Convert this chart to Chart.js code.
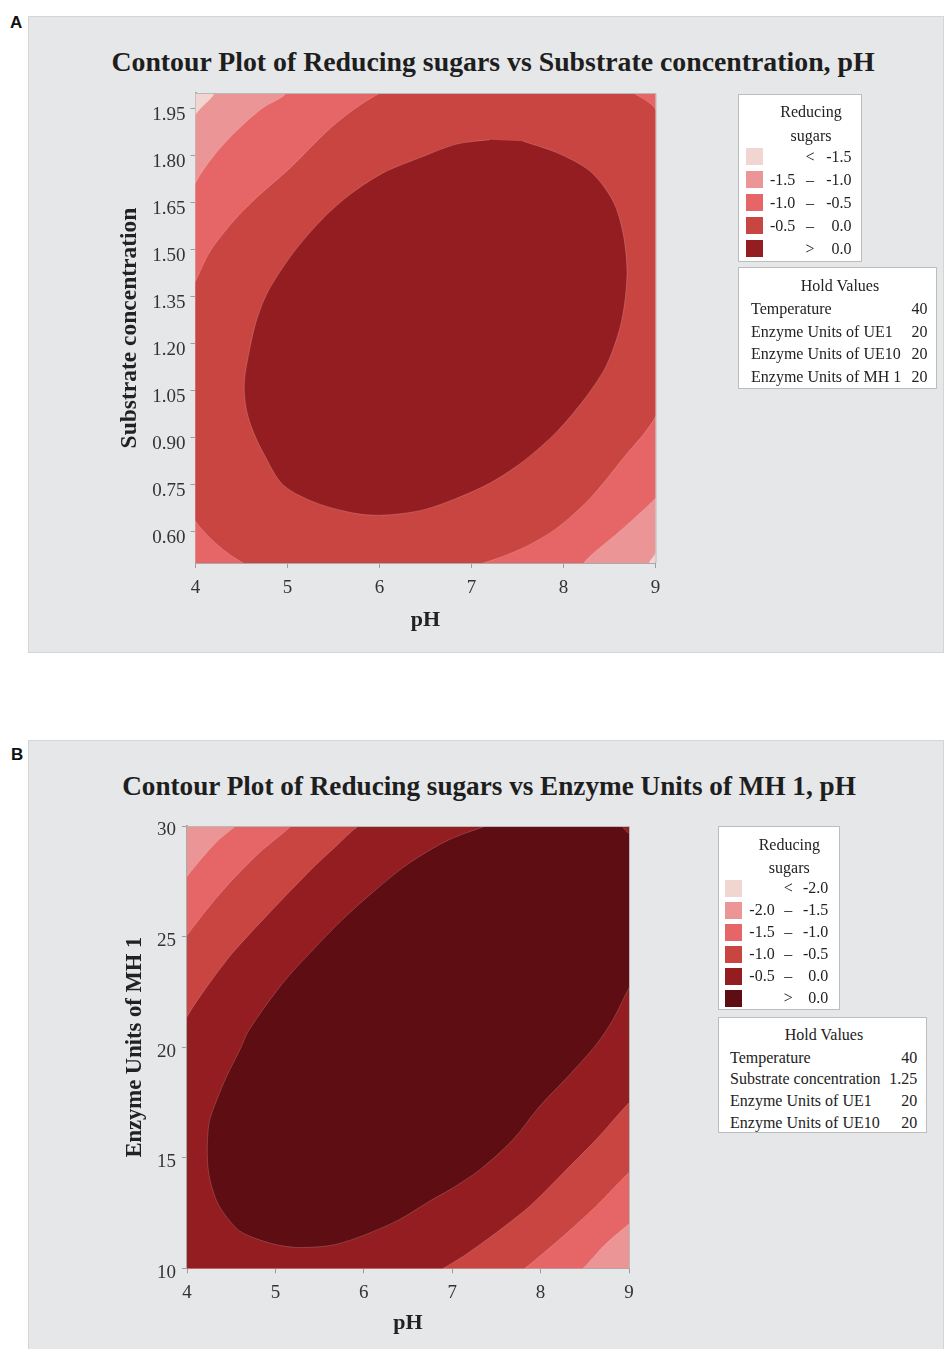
<!DOCTYPE html>
<html>
<head>
<meta charset="utf-8">
<script src="https://cdn.jsdelivr.net/npm/chart.js@4/dist/chart.umd.min.js"></script>
<style>
  html,body{margin:0;padding:0;background:#fff}
  body{position:relative;width:944px;height:1349px;overflow:hidden;font-family:"Liberation Serif","Times New Roman",serif;color:#222}
  .panel{position:absolute;background:#e6e7e9;border:1px solid #d4d5d7;box-sizing:border-box}
  .lbl{position:absolute;font:bold 17px "Liberation Sans",Arial,sans-serif;line-height:20px;color:#111}
  .ttl{position:absolute;font-weight:bold;line-height:32px;text-align:center;white-space:nowrap;color:#1e1e1e}
  canvas{position:absolute}
  .box{position:absolute;background:#fff;border:1px solid #bdbdbd;box-sizing:border-box}
  .t{position:absolute;font-size:16px;line-height:20px;white-space:nowrap;color:#222}
  .sw{position:absolute;width:17px;height:17px}
</style>
</head>
<body>
<div class="panel" style="left:28px;top:16px;width:916px;height:637px"></div>
<div class="panel" style="left:28px;top:740px;width:916px;height:640px"></div>
<div class="lbl" style="left:10px;top:13px">A</div>
<div class="lbl" style="left:11px;top:745px">B</div>
<div class="ttl" style="left:-7px;width:1000px;top:46px;font-size:27.8px">Contour Plot of Reducing sugars vs Substrate concentration, pH</div>
<div class="ttl" style="left:-11px;width:1000px;top:770px;font-size:27.2px">Contour Plot of Reducing sugars vs Enzyme Units of MH 1, pH</div>
<canvas id="chartA" width="916" height="636" style="left:28px;top:16px"></canvas>
<canvas id="chartB" width="916" height="609" style="left:28px;top:740px"></canvas>
<script>
// ---- data ----
// contour classes (lowest -> highest)
const colorsA = ['#f0d5d1', '#eb9596', '#e66667', '#c94542', '#931d20'];
const colorsB = ['#f0d5d1', '#eb9596', '#e66667', '#c94542', '#931d20', '#5e0d12'];

const lowA = ['', '-1.5', '-1.0', '-0.5', ''];
const sepA = ['<', '\u2013', '\u2013', '\u2013', '>'];
const highA = ['-1.5', '-1.0', '-0.5', '0.0', '0.0'];

const lowB = ['', '-2.0', '-1.5', '-1.0', '-0.5', ''];
const sepB = ['<', '\u2013', '\u2013', '\u2013', '\u2013', '>'];
const highB = ['-2.0', '-1.5', '-1.0', '-0.5', '0.0', '0.0'];

const holdNamesA = ['Temperature', 'Enzyme Units of UE1', 'Enzyme Units of UE10', 'Enzyme Units of MH 1'];
const holdValsA = ['40', '20', '20', '20'];
const holdNamesB = ['Temperature', 'Substrate concentration', 'Enzyme Units of UE1', 'Enzyme Units of UE10'];
const holdValsB = ['40', '1.25', '20', '20'];

const phTicks = [4, 5, 6, 7, 8, 9];
const substrateTicks = [0.60, 0.75, 0.90, 1.05, 1.20, 1.35, 1.50, 1.65, 1.80, 1.95];
const mhTicks = [10, 15, 20, 25, 30];

// panel A contour regions [pH, substrate], outermost first (pts outside the axes get clipped)
const regionA_m15 = [[3.9,1.85],[4.0,1.931],[4.21,2.0],[4.3,2.08],[9.1,2.08],[9.1,0.6],[9.0,0.53],[8.93,0.5],[8.85,0.42],[3.9,0.42]];
const regionA_m10 = [[3.9,1.62],[4.0,1.713],[4.2,1.80],[4.45,1.88],[4.72,1.95],[4.99,2.0],[5.1,2.08],[9.1,2.08],[9.1,0.75],[9.0,0.707],[8.61,0.601],[8.22,0.5],[8.1,0.42],[3.9,0.42]];
const regionA_m05 = [[4.0,1.399],[4.16,1.495],[4.41,1.59],[4.66,1.665],[5.03,1.761],[5.43,1.878],[5.72,1.947],[6.01,2.0],[6.5,2.06],[7.5,2.09],[8.4,2.06],[8.76,2.0],[9.0,1.947],[9.08,1.8],[9.08,1.1],[9.0,0.968],[8.65,0.835],[8.29,0.707],[7.93,0.612],[7.56,0.548],[7.13,0.5],[6.5,0.45],[5.2,0.45],[4.52,0.5],[4.0,0.633],[3.92,0.75],[3.92,1.3]];
const regionA_0 = [[7.20,1.851],[6.84,1.837],[6.48,1.798],[6.04,1.745],[5.68,1.676],[5.39,1.601],[5.06,1.489],[4.79,1.367],[4.66,1.271],[4.57,1.154],[4.53,1.074],[4.55,0.995],[4.62,0.925],[4.74,0.85],[4.95,0.75],[5.32,0.691],[5.79,0.656],[6.11,0.654],[6.48,0.67],[6.84,0.707],[7.20,0.755],[7.56,0.824],[7.93,0.92],[8.25,1.032],[8.47,1.133],[8.63,1.271],[8.69,1.42],[8.65,1.548],[8.54,1.654],[8.29,1.75],[7.93,1.809],[7.56,1.846]];

// panel B contour regions [pH, MH 1]
const regionB_m15 = [[3.9,27.0],[4.0,27.71],[4.32,29.22],[4.55,30],[4.7,30.5],[9.2,30.5],[9.2,12.6],[9.0,12.0],[8.71,11.0],[8.48,10],[8.3,9.5],[3.9,9.5]];
const regionB_m10 = [[3.9,24.5],[4.0,25.06],[4.25,26.35],[4.51,27.55],[4.81,28.76],[5.18,30],[5.3,30.5],[9.2,30.5],[9.2,15],[9.0,14.33],[8.63,12.82],[8.26,11.47],[7.82,10],[7.6,9.5],[3.9,9.5]];
const regionB_m05 = [[3.9,20.5],[4.0,21.37],[4.17,22.42],[4.51,24.23],[4.89,25.89],[5.40,28.01],[5.68,29.06],[5.94,30],[6.2,30.5],[9.2,30.5],[9.2,18.2],[9.0,17.49],[8.63,15.83],[8.26,14.33],[7.88,12.82],[7.50,11.62],[7.13,10.56],[6.90,10],[6.7,9.5],[3.9,9.5]];
const regionB_0 = [[7.38,30],[6.96,29.37],[6.51,28.31],[6.13,27.10],[5.75,25.74],[5.42,24.38],[5.08,22.88],[4.70,20.76],[4.60,19.89],[4.45,18.69],[4.34,17.64],[4.25,16.58],[4.23,15.08],[4.26,14.0],[4.36,12.85],[4.57,11.77],[4.75,11.39],[5.02,11.06],[5.28,10.94],[5.66,11.06],[6.03,11.54],[6.41,12.22],[6.75,13.05],[6.98,13.57],[7.32,14.48],[7.69,15.83],[7.99,17.33],[8.33,18.76],[8.63,20.12],[8.82,21.25],[9.0,22.68],[9.2,24],[9.2,29.5],[9.0,29.67],[8.92,30],[8.8,30.5],[7.5,30.5]];

// ---- helpers ----
const SERIF = '"Liberation Serif", "Times New Roman", serif';

function addText(x, y, s, align){
  const d = document.createElement('div');
  d.className = 't';
  d.textContent = s;
  d.style.top = (y - 10) + 'px';
  if (align === 'right') d.style.right = (944 - x) + 'px';
  else if (align === 'center') { d.style.left = (x - 100) + 'px'; d.style.width = '200px'; d.style.textAlign = 'center'; }
  else d.style.left = x + 'px';
  document.body.appendChild(d);
}
function addBox(l, t, w, h){
  const b = document.createElement('div');
  b.className = 'box';
  Object.assign(b.style, {left: l+'px', top: t+'px', width: w+'px', height: h+'px'});
  document.body.appendChild(b);
}

function legend(L, colors, low, sep, high, names, vals){
  addBox(L.left, L.top, L.w, L.h);
  addText(L.cx, L.titleY, 'Reducing', 'center');
  addText(L.cx, L.titleY + L.titleGap, 'sugars', 'center');
  colors.forEach((c, i)=>{
    const y = L.row0 + i*L.rowStep;
    const s = document.createElement('div');
    s.className = 'sw';
    Object.assign(s.style, {left: L.swX+'px', top: (y-8.5)+'px', background: c});
    document.body.appendChild(s);
    if (low[i]) addText(L.lowX, y, low[i], 'left');
    addText(L.sepX, y, sep[i], 'center');
    addText(L.highX, y, high[i], 'right');
  });
  const H = L.hold;
  addBox(H.left, H.top, H.w, H.h);
  addText(H.cx, H.titleY, 'Hold Values', 'center');
  names.forEach((n, i)=>{
    const y = H.row0 + i*H.rowStep;
    addText(H.labX, y, n, 'left');
    addText(H.valX, y, vals[i], 'right');
  });
}

const plotFrame = {
  id: 'plotFrame',
  beforeDatasetsDraw(chart, args, opts){
    const {ctx, chartArea: a} = chart;
    ctx.save();
    ctx.fillStyle = opts.base;
    ctx.fillRect(a.left, a.top, a.width, a.height);
    ctx.restore();
  },
  afterDatasetsDraw(chart){
    const {ctx, chartArea: a} = chart;
    ctx.save();
    ctx.strokeStyle = '#b9b9bb';
    ctx.lineWidth = 1;
    ctx.beginPath();
    ctx.moveTo(a.left, a.top + 0.5); ctx.lineTo(a.right + 0.5, a.top + 0.5); ctx.lineTo(a.right + 0.5, a.bottom);
    ctx.stroke();
    ctx.restore();
  }
};

function makeChart(id, P){
  const datasets = P.regions.map((pts, i)=>({
    data: pts.map(p=>({x: p[0], y: p[1]})),
    showLine: true,
    fill: 'shape',
    backgroundColor: P.colors[i+1],
    borderColor: 'rgba(255,255,255,0.22)',
    borderWidth: 0.8,
    pointRadius: 0,
    tension: 0.3,
    capBezierPoints: false,
    order: P.regions.length - i
  }));
  const tickFont = {family: SERIF, size: 19};
  return new Chart(document.getElementById(id), {
    type: 'scatter',
    data: {datasets},
    options: {
      responsive: false,
      animation: false,
      events: [],
      layout: {padding: P.pad},
      plugins: {legend: {display: false}, tooltip: {enabled: false}, plotFrame: {base: P.colors[0]}},
      scales: {
        x: {
          type: 'linear', min: P.xMin, max: P.xMax, z: 1,
          afterBuildTicks: s => { s.ticks = P.xTicks.map(v=>({value: v})); },
          afterFit: s => { s.height = P.xH; },
          ticks: {font: tickFont, color: '#333', padding: P.xPad, maxRotation: 0, callback: v => String(v)},
          grid: {drawOnChartArea: false, tickLength: 5, color: '#9d9d9d'},
          border: {color: '#a9a9ab', width: 2},
          title: {display: true, text: P.xTitle, font: {family: SERIF, size: 22, weight: 'bold'}, color: '#222', padding: 0}
        },
        y: {
          type: 'linear', min: P.yMin, max: P.yMax, z: 1,
          afterBuildTicks: s => { s.ticks = P.yTicks.map(v=>({value: v})); },
          afterFit: s => { s.width = P.yW; },
          ticks: {font: tickFont, color: '#333', padding: P.yPad, labelOffset: P.yLabOff, callback: v => Number(v).toFixed(P.yDec)},
          grid: {drawOnChartArea: false, tickLength: 5, color: '#9d9d9d'},
          border: {color: '#a9a9ab', width: 2},
          title: {display: true, text: P.yTitle, font: {family: SERIF, size: P.yTitleSize, weight: 'bold'}, color: '#222', padding: 0}
        }
      }
    },
    plugins: [plotFrame]
  });
}

// ---- panel A ----
makeChart('chartA', {
  regions: [regionA_m15, regionA_m10, regionA_m05, regionA_0],
  colors: colorsA,
  xMin: 4, xMax: 9, yMin: 0.5, yMax: 2.0,
  xTicks: phTicks, yTicks: substrateTicks, yDec: 2,
  xTitle: 'pH', yTitle: 'Substrate concentration', yTitleSize: 23.5,
  pad: {left: 87.9, top: 77, right: 288.5, bottom: 18.2},
  yW: 79.6, xH: 70.8, xPad: 8.4, yPad: 5, yLabOff: 6
});
legend({left: 737.7, top: 93.7, w: 124, h: 168, cx: 811, titleY: 111.5, titleGap: 24,
        row0: 156.5, rowStep: 23, swX: 746, lowX: 770, sepX: 810, highX: 851.5,
        hold: {left: 738, top: 266.7, w: 199.3, h: 122.3, cx: 840, titleY: 286, row0: 309, rowStep: 22.7, labX: 751, valX: 927.5}},
       colorsA, lowA, sepA, highA, holdNamesA, holdValsA);

// ---- panel B ----
makeChart('chartB', {
  regions: [regionB_m15, regionB_m10, regionB_m05, regionB_0],
  colors: colorsB.slice(1),
  xMin: 4, xMax: 9, yMin: 10, yMax: 30,
  xTicks: phTicks, yTicks: mhTicks, yDec: 0,
  xTitle: 'pH', yTitle: 'Enzyme Units of MH 1', yTitleSize: 22.6,
  pad: {left: 93.4, top: 86, right: 315, bottom: 12.3},
  yW: 65.6, xH: 68.4, xPad: 8.3, yPad: 6, yLabOff: 4.5
});
legend({left: 718.3, top: 825.7, w: 122, h: 184.3, cx: 789.3, titleY: 845, titleGap: 22.7,
        row0: 888, rowStep: 22, swX: 725, lowX: 749.3, sepX: 788.3, highX: 828.3,
        hold: {left: 718.3, top: 1016.7, w: 209, h: 116.6, cx: 824, titleY: 1035, row0: 1057.5, rowStep: 21.9, labX: 730, valX: 917.3}},
       colorsB, lowB, sepB, highB, holdNamesB, holdValsB);
</script>
</body>
</html>
